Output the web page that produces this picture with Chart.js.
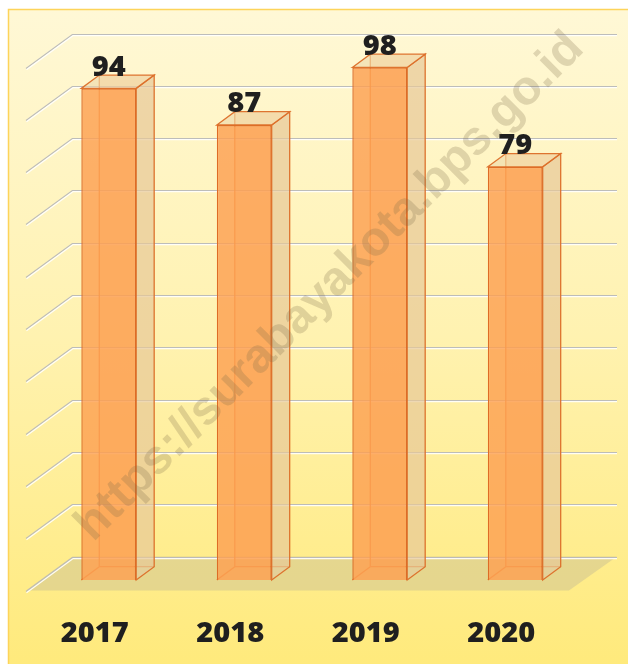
<!DOCTYPE html>
<html>
<head>
<meta charset="utf-8">
<script src="https://cdn.jsdelivr.net/npm/chart.js@4.4.1/dist/chart.umd.min.js"></script>
<style>
  html, body { margin: 0; padding: 0; background: #ffffff; }
  #wrap { width: 628px; height: 664px; }
</style>
</head>
<body>
<div id="wrap"><canvas id="c" width="628" height="664"></canvas></div>
<script>
const categories = ["2017", "2018", "2019", "2020"];
const values = [94, 87, 98, 79];
const yTicks = [0, 10, 20, 30, 40, 50, 60, 70, 80, 90, 100];
const watermarkText = "https://surabayakota.bps.go.id";

const DEPTH_X = 18, DEPTH_Y = -13.3;     // bar depth
const WALL_X = 31.5, WALL_Y = -23.5;     // back wall offset from bar plane
const FLOOR_FX = -15, FLOOR_FY = 10.5;   // front floor edge offset
const LABEL_FONT = '800 29px "Open Sans"';

const threeD = {
  id: 'threeD',
  beforeDraw(chart) {
    const ctx = chart.ctx;
    ctx.save();
    ctx.fillStyle = '#ffffff';
    ctx.fillRect(0, 0, chart.width, chart.height);
    const g = ctx.createLinearGradient(0, 9, 0, chart.height);
    g.addColorStop(0, '#fff8d6');
    g.addColorStop(0.5, '#fff2b0');
    g.addColorStop(1, '#ffea7c');
    ctx.fillStyle = g;
    ctx.fillRect(8, 9, chart.width - 8, chart.height - 9);
    ctx.strokeStyle = '#fdd45a';
    ctx.lineWidth = 1.5;
    ctx.beginPath();
    ctx.moveTo(8.5, chart.height);
    ctx.lineTo(8.5, 9.5);
    ctx.lineTo(chart.width, 9.5);
    ctx.stroke();
    ctx.restore();
  },
  beforeDatasetsDraw(chart) {
    const ctx = chart.ctx;
    const ys = chart.scales.y, ca = chart.chartArea;
    const base = ys.getPixelForValue(0);
    const bl = ca.left + WALL_X, br = ca.right + WALL_X + 2.5;
    ctx.save();
    // floor
    ctx.beginPath();
    ctx.moveTo(bl, base + WALL_Y);
    ctx.lineTo(br, base + WALL_Y);
    ctx.lineTo(ca.right + FLOOR_FX + 1, base + FLOOR_FY);
    ctx.lineTo(ca.left + FLOOR_FX, base + FLOOR_FY);
    ctx.closePath();
    ctx.fillStyle = 'rgba(212,200,145,0.6)';
    ctx.fill();
    // gridlines on back wall + side wall diagonals
    yTicks.forEach(v => {
      const y = Math.round(ys.getPixelForValue(v) + WALL_Y) + 0.5;
      ctx.lineWidth = 1.2;
      ctx.strokeStyle = 'rgba(185,185,185,0.95)';
      ctx.beginPath();
      ctx.moveTo(bl, y); ctx.lineTo(br, y);
      ctx.moveTo(bl, y); ctx.lineTo(bl - 46.5, y + 34);
      ctx.stroke();
      ctx.strokeStyle = 'rgba(255,255,255,0.9)';
      ctx.beginPath();
      ctx.moveTo(bl, y + 1.2); ctx.lineTo(br, y + 1.2);
      ctx.moveTo(bl, y + 1.5); ctx.lineTo(bl - 46, y + 35.3);
      ctx.stroke();
    });
    // hidden back edges of bars
    const meta = chart.getDatasetMeta(0);
    ctx.strokeStyle = 'rgba(230,120,45,0.9)';
    ctx.lineWidth = 1.3;
    meta.data.forEach(bar => {
      const l = bar.x - bar.width / 2, r = bar.x + bar.width / 2;
      const t = bar.y, b = bar.base;
      ctx.beginPath();
      ctx.moveTo(l + DEPTH_X, t + DEPTH_Y); ctx.lineTo(l + DEPTH_X, b + DEPTH_Y);
      ctx.lineTo(r + DEPTH_X, b + DEPTH_Y);
      ctx.moveTo(l, b); ctx.lineTo(l + DEPTH_X, b + DEPTH_Y);
      ctx.stroke();
      ctx.fillStyle = 'rgba(250,170,100,0.25)';
      ctx.fillRect(l + DEPTH_X, t + DEPTH_Y, bar.width, b - t);
    });
    ctx.restore();
  },
  afterDatasetsDraw(chart) {
    const ctx = chart.ctx;
    const meta = chart.getDatasetMeta(0);
    const xs = chart.scales.x;
    ctx.save();
    meta.data.forEach((bar, i) => {
      const l = bar.x - bar.width / 2, r = bar.x + bar.width / 2;
      const t = bar.y, b = bar.base;
      // side face
      ctx.beginPath();
      ctx.moveTo(r, t); ctx.lineTo(r + DEPTH_X, t + DEPTH_Y);
      ctx.lineTo(r + DEPTH_X, b + DEPTH_Y); ctx.lineTo(r, b);
      ctx.closePath();
      ctx.fillStyle = 'rgba(228,205,160,0.62)';
      ctx.fill();
      ctx.strokeStyle = 'rgba(220,110,40,0.95)';
      ctx.lineWidth = 1.3;
      ctx.stroke();
      // top face
      ctx.beginPath();
      ctx.moveTo(l, t); ctx.lineTo(l + DEPTH_X, t + DEPTH_Y);
      ctx.lineTo(r + DEPTH_X, t + DEPTH_Y); ctx.lineTo(r, t);
      ctx.closePath();
      ctx.fillStyle = 'rgba(236,215,168,0.6)';
      ctx.fill();
      ctx.stroke();
      // value label
      ctx.fillStyle = '#1f1f1f';
      ctx.font = LABEL_FONT;
      ctx.textAlign = 'center';
      ctx.textBaseline = 'alphabetic';
      ctx.fillText(String(values[i]), bar.x, t - 12.5);
    });
    // category labels
    ctx.fillStyle = '#1f1f1f';
    ctx.font = LABEL_FONT;
    ctx.textAlign = 'center';
    ctx.textBaseline = 'alphabetic';
    categories.forEach((c, i) => {
      ctx.fillText(c, xs.getPixelForValue(i) - 14, 642);
    });
    // watermark
    ctx.translate(330, 287);
    ctx.rotate(-Math.PI / 4);
    ctx.font = 'bold 48px "Liberation Sans"';
    ctx.textAlign = 'center';
    ctx.textBaseline = 'middle';
    ctx.fillStyle = 'rgba(120,105,70,0.24)';
    ctx.fillText(watermarkText, 0, 0);
    ctx.restore();
  }
};

new Chart(document.getElementById('c'), {
  type: 'bar',
  data: {
    labels: categories,
    datasets: [{
      data: values,
      backgroundColor: 'rgba(253,160,82,0.82)',
      borderColor: 'rgba(222,108,38,1)',
      borderWidth: 1.4,
      barPercentage: 0.405,
      categoryPercentage: 1
    }]
  },
  options: {
    responsive: false,
    devicePixelRatio: 1,
    animation: false,
    layout: { padding: { left: 41, right: 45, top: 57, bottom: 84 } },
    plugins: { legend: { display: false }, tooltip: { enabled: false } },
    scales: {
      x: { display: false },
      y: { display: false, min: 0, max: 100, ticks: { stepSize: 10 } }
    }
  },
  plugins: [threeD]
});
</script>
</body>
</html>
